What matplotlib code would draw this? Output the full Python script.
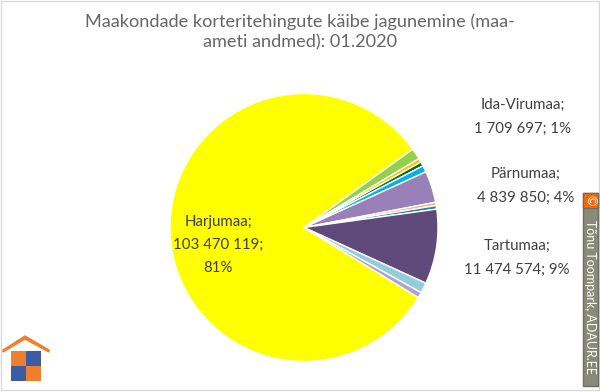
import matplotlib
matplotlib.use("Agg")
import matplotlib.pyplot as plt
from matplotlib.patches import Rectangle, Polygon

plt.rcParams['font.family'] = ['Lato', 'DejaVu Sans']

# ---- data ----
counties = ["Harjumaa", "Ida-Virumaa", "Jõgevamaa", "Järvamaa", "Läänemaa",
            "Pärnumaa", "Raplamaa", "Saaremaa", "Tartumaa", "Valgamaa", "Viljandimaa"]
values = [103470119, 1709697, 600000, 650000, 1000000,
          4839850, 500000, 550000, 11474574, 1600000, 850000]
colors = ["#FFFF00", "#92D050", "#FFC000", "#0B6E0B", "#00B0F0",
          "#9980B8", "#F4B183", "#31859C", "#604A7B", "#92CDDC", "#B3A2C7"]
title = "Maakondade korteritehingute käibe jagunemine (maa-\nameti andmed): 01.2020"

W, H = 600, 392
fig = plt.figure(figsize=(W / 100, H / 100), dpi=100)
fig.patch.set_facecolor("white")

def fx(x): return x / W
def fy(y): return 1 - y / H

# border
fig.patches.append(Rectangle((fx(1), fy(390)), fx(598), 389 / H, transform=fig.transFigure,
                             fill=False, edgecolor="#D9D9D9", linewidth=1))

# pie
cx, cy, r = 304, 227.5, 134
ax = fig.add_axes([fx(cx - r), fy(cy + r), 2 * r / W, 2 * r / H])
ax.pie(values, colors=colors, startangle=-31.5, counterclock=False,
       wedgeprops=dict(edgecolor="white", linewidth=1.0))
ax.set_xlim(-1, 1)
ax.set_ylim(-1, 1)
ax.set_aspect("equal")
ax.axis("off")

total = sum(values)
def fmt(v):
    return f"{v:,}".replace(",", " ")
def pct(v):
    return f"{round(100 * v / total)}%"

tc = "#404040"
fs = 10.8
ls = 1.85
hv = values[counties.index("Harjumaa")]
fig.text(fx(218), fy(245), f"Harjumaa;\n{fmt(hv)};\n{pct(hv)}", ha="center", va="center",
         fontsize=fs, color=tc, linespacing=ls)
pos = {"Ida-Virumaa": (523, 117), "Pärnumaa": (526, 186), "Tartumaa": (517, 258)}
for name, (x, y) in pos.items():
    v = values[counties.index(name)]
    fig.text(fx(x), fy(y), f"{name};\n{fmt(v)}; {pct(v)}", ha="center", va="center",
             fontsize=fs, color=tc, linespacing=ls)

fig.text(fx(300), fy(32), title, ha="center", va="center", fontsize=13.1,
         color="#666666", linespacing=1.35)

# watermark
fig.patches.append(Rectangle((fx(583), fy(386)), 15 / W, 193 / H, transform=fig.transFigure,
                             facecolor="#8A8A78", edgecolor="#6E6E60", linewidth=1))
fig.patches.append(Rectangle((fx(583), fy(208)), 15 / W, 15 / H, transform=fig.transFigure,
                             facecolor="#FF6600", edgecolor="#6E6E60", linewidth=1))
fig.text(fx(590.5), fy(200.5), "©", ha="center", va="center", color="white",
         fontsize=9, rotation=-90)
fig.text(fx(590.5), fy(297), "Tõnu Toompark, ADAUR.EE", ha="center", va="center",
         color="white", fontsize=9, rotation=-90)

# logo
orange, blue = "#F07F2D", "#3B5BA5"
fig.patches.append(Polygon([(fx(3), fy(350)), (fx(25), fy(336)), (fx(49), fy(350)),
                            (fx(49), fy(352)), (fx(25), fy(339)), (fx(3), fy(352))],
                           closed=True, transform=fig.transFigure, facecolor=orange,
                           edgecolor=orange, linewidth=1))
for (x0, y0, c) in [(11, 351, orange), (26, 351, blue), (11, 366, blue), (26, 366, orange)]:
    fig.patches.append(Rectangle((fx(x0), fy(y0 + 15)), 15 / W, 15 / H,
                                 transform=fig.transFigure, facecolor=c, edgecolor="none"))

fig.savefig("out.png", dpi=100, facecolor="white")
